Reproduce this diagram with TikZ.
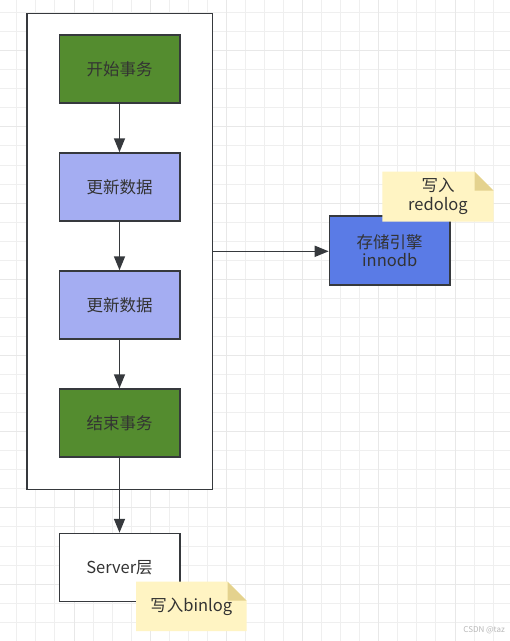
\documentclass[tikz,border=0pt]{standalone}
\usepackage{fontspec}
\newfontfamily\cjk{Noto Sans CJK SC}
\usetikzlibrary{arrows.meta}
\definecolor{gridminor}{HTML}{EFEFEF}
\definecolor{gridmajor}{HTML}{E8E8E8}
\definecolor{linec}{HTML}{36393D}
\definecolor{txt}{HTML}{333333}
\definecolor{greenf}{HTML}{548C2F}
\definecolor{lightbl}{HTML}{A4ADF2}
\definecolor{bluef}{HTML}{5A7BE6}
\definecolor{notef}{HTML}{FFF4C3}
\definecolor{foldf}{HTML}{E4D28E}
\tikzset{
  box/.style={draw=linec, line width=1.5pt, minimum width=120.5pt, minimum height=68pt,
    inner sep=0pt, font=\cjk\fontsize{16.5}{20}\selectfont, text=txt, align=center},
  arr/.style={draw=linec, line width=1.6pt, -{Triangle[length=14pt,width=11pt]}},
  notetext/.style={inner sep=0pt, font=\cjk\fontsize{16.5}{20}\selectfont, text=txt, align=center},
}
\begin{document}
\begin{tikzpicture}[x=1pt,y=-1pt]
\useasboundingbox (0,0) rectangle (510,641);
\fill[white] (0,0) rectangle (510,641);
% grid
\foreach \i in {0,...,26} {\draw[gridminor, line width=1pt] (16.85+\i*19.05,0) -- (16.85+\i*19.05,641);}
\foreach \i in {0,...,33} {\draw[gridminor, line width=1pt] (0,12.6+\i*19.05) -- (510,12.6+\i*19.05);}
\foreach \i in {0,...,6} {\draw[gridmajor, line width=1pt] (-2.2+\i*76.2,0) -- (-2.2+\i*76.2,641);}
\foreach \i in {0,...,7} {\draw[gridmajor, line width=1pt] (0,50.7+\i*76.2) -- (510,50.7+\i*76.2);}

% container
\node[box, fill=white, minimum width=185.5pt, minimum height=476pt] (cont) at (119.75,251.3) {};
% steps
\node[box, fill=greenf] (start) at (119.5,69) {开始事务};
\node[box, fill=lightbl] (upd1) at (119.5,187) {更新数据};
\node[box, fill=lightbl] (upd2) at (119.5,305) {更新数据};
\node[box, fill=greenf] (finish) at (119.5,423) {结束事务};
\node[box, fill=white] (server) at (119.5,567.5) {Server层};
\node[box, fill=bluef, minimum height=69pt] (store) at (389.7,250.5) {存储引擎\\[-2pt]innodb};

% connectors
\draw[arr] (start) -- (upd1);
\draw[arr] (upd1) -- (upd2);
\draw[arr] (upd2) -- (finish);
\draw[arr] (finish) -- (server);
\draw[arr] (cont.east) -- (cont.east -| store.west);

% note 1
\fill[notef] (382.3,171.7) -- (474.5,171.7) -- (493.5,190.7) -- (493.5,221.5) -- (382.3,221.5) -- cycle;
\fill[foldf] (474.5,171.7) -- (493.5,190.7) -- (474.5,190.7) -- cycle;
\node[notetext] (note1) at (438,196.5) {写入\\[-1pt]redolog};
% note 2
\fill[notef] (136,581.7) -- (227.7,581.7) -- (246.7,600.7) -- (246.7,631) -- (136,631) -- cycle;
\fill[foldf] (227.7,581.7) -- (246.7,600.7) -- (227.7,600.7) -- cycle;
\node[notetext] (note2) at (191.3,607) {写入binlog};

% watermark
\node[inner sep=0pt, font=\cjk\fontsize{8}{9}\selectfont, text=black!28, anchor=east] (wm) at (505,630) {CSDN @taz};
\end{tikzpicture}
\end{document}
